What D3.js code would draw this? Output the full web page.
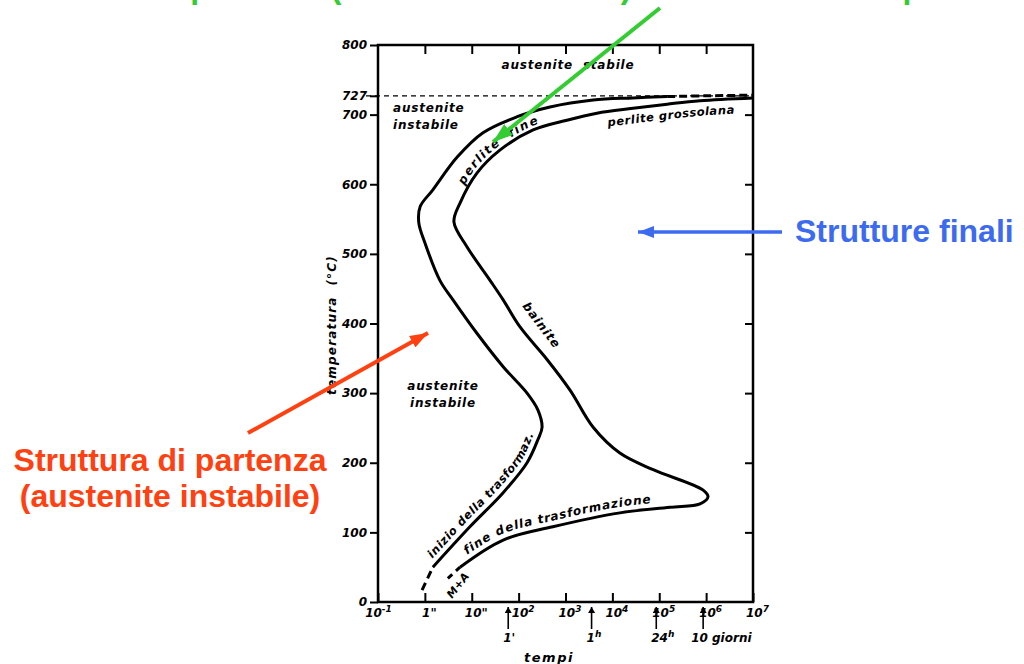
<!DOCTYPE html>
<html>
<head>
<meta charset="utf-8">
<script src="https://cdn.jsdelivr.net/npm/d3@7"></script>
<style>
body { margin: 0; background: #fff; }
svg { display: block; }
.lbl { font-family: "DejaVu Sans", sans-serif; font-weight: bold; font-style: italic; fill: #000; white-space: pre; }
.big { font-family: "Liberation Sans", Arial, sans-serif; font-weight: bold; font-size: 32px; }
</style>
</head>
<body>
<svg id="chart" width="1024" height="664"></svg>
<script>
// temperature axis
var yTicks = [0, 100, 200, 300, 400, 500, 600, 700, 800];
var eutectoid = 727;
// time axis: decades (log10 of seconds) and their labels [base, exponent]
var xDecades = [-1, 0, 1, 2, 3, 4, 5, 6, 7];
var xTickLabels = [['10', '-1'], ['1"', ''], ['10"', ''], ['10', '2'], ['10', '3'], ['10', '4'], ['10', '5'], ['10', '6'], ['10', '7']];
// reference times under the axis, seconds
var markerTimes = [60, 3600, 86400, 864000];
var markerLabels = [["1'", ''], ['1', 'h'], ['24', 'h'], ['10 giorni', '']];

// curve "inizio della trasformazione" (log10 t, °C)
var startDashLogT = [-0.06, 0.17];
var startDashTemp = [17, 50];
var startLogT = [0.17, 0.96, 1.67, 2.18, 2.41, 2.50, 2.41, 2.18, 1.67, 1.11, 0.60, 0.32, 0.00, -0.13, -0.10, 0.17, 0.69, 1.24, 1.97, 2.67, 3.59, 4.44, 5.17];
var startTemp = [50, 108, 157, 200, 233, 251, 276, 300, 338, 386, 434, 462, 516, 545, 568, 592, 639, 674, 697, 711, 721, 724, 726];
var startTailLogT = [5.17, 6.0, 7.0];
var startTailTemp = [726, 727, 728];

// curve "fine della trasformazione"
var endDashLogT = [0.49, 0.75];
var endDashTemp = [34, 50];
var endLogT = [0.75, 1.67, 2.73, 4.16, 5.23, 5.87, 6.04, 5.93, 4.87, 4.16, 3.59, 3.10, 2.61, 2.03, 1.67, 1.39, 0.90, 0.62, 0.75, 1.11, 1.60, 2.31, 3.03, 3.67, 4.44, 5.17, 5.87, 7.0];
var endTemp = [50, 89, 108, 128, 136, 141, 151, 161, 190, 214, 251, 304, 348, 395, 434, 462, 510, 546, 573, 616, 649, 678, 692, 702, 709, 715, 720, 724];

var svg = d3.select('#chart');

var plot = {l: 378, r: 753, t: 45, b: 602};

var xScale = d3.scaleLog().domain([0.1, 1e7]).range([plot.l, plot.r]);
var yScale = d3.scaleLinear().domain([0, 800]).range([plot.b, plot.t]);

var line = d3.line()
    .x(function(d) { return xScale(Math.pow(10, d[0])); })
    .y(function(d) { return yScale(d[1]); })
    .curve(d3.curveCatmullRom.alpha(0.5));

// markers for the coloured arrows
var defs = svg.append('defs');
function addMarker(id, color, len, wid) {
    defs.append('marker')
        .attr('id', id)
        .attr('markerUnits', 'userSpaceOnUse')
        .attr('viewBox', '0 0 ' + len + ' ' + wid)
        .attr('refX', len).attr('refY', wid / 2)
        .attr('markerWidth', len).attr('markerHeight', wid)
        .attr('orient', 'auto')
        .append('path')
        .attr('d', 'M0,0L' + len + ',' + (wid / 2) + 'L0,' + wid + 'Z')
        .attr('fill', color);
}
addMarker('headGreen', '#33cc33', 20, 14);
addMarker('headRed', '#ff4010', 18, 13);
addMarker('headBlue', '#3d6bf0', 16, 12);
addMarker('headBlack', '#000', 6, 7);

// frame
svg.append('rect')
    .attr('x', plot.l).attr('y', plot.t)
    .attr('width', plot.r - plot.l).attr('height', plot.b - plot.t)
    .attr('fill', 'none').attr('stroke', '#000').attr('stroke-width', 2.5);

function styleAxis(g) {
    g.select('.domain').remove();
    g.selectAll('.tick line').attr('stroke', '#000').attr('stroke-width', 2);
    g.selectAll('.tick text')
        .attr('class', 'lbl')
        .style('font-size', '12px')
        .attr('fill', '#000');
}

// left axis
svg.append('g')
    .attr('transform', 'translate(' + plot.l + ',0)')
    .call(d3.axisLeft(yScale).tickValues(yTicks.concat([eutectoid])).tickSize(8).tickPadding(3)
        .tickFormat(function(d) { return d; }))
    .call(styleAxis);

// right axis, inner ticks only
svg.append('g')
    .attr('transform', 'translate(' + plot.r + ',0)')
    .call(d3.axisRight(yScale).tickValues(yTicks.slice(1, -1)).tickSizeInner(-8).tickSizeOuter(0).tickFormat(''))
    .call(styleAxis);

// top axis, inner ticks only
svg.append('g')
    .attr('transform', 'translate(0,' + plot.t + ')')
    .call(d3.axisTop(xScale).tickValues(xDecades.slice(1, -1).map(function(e) { return Math.pow(10, e); }))
        .tickSizeInner(-9).tickSizeOuter(0).tickFormat(''))
    .call(styleAxis);

// bottom axis
var bottomAxis = svg.append('g')
    .attr('transform', 'translate(0,' + plot.b + ')')
    .call(d3.axisBottom(xScale).tickValues(xDecades.map(function(e) { return Math.pow(10, e); }))
        .tickSizeInner(-9).tickSizeOuter(0).tickPadding(5).tickFormat(''))
    .call(styleAxis);

bottomAxis.selectAll('.tick text').each(function(d, i) {
    var t = d3.select(this).attr('dy', '0.8em').attr('dx', i === 0 ? 0 : 4);
    t.append('tspan').text(xTickLabels[i][0]);
    if (xTickLabels[i][1]) {
        t.append('tspan').attr('dy', -5).style('font-size', '9px').text(xTickLabels[i][1]);
    }
});

// reference time arrows
markerTimes.forEach(function(s, i) {
    var mx = xScale(s);
    svg.append('line')
        .attr('x1', mx).attr('x2', mx)
        .attr('y1', plot.b + 27).attr('y2', plot.b + 5)
        .attr('stroke', '#000').attr('stroke-width', 1.6)
        .attr('marker-end', 'url(#headBlack)');
    var t = svg.append('text').attr('class', 'lbl').style('font-size', '12px')
        .attr('x', mx + (i === 3 ? -12 : -5)).attr('y', plot.b + 40);
    t.append('tspan').text(markerLabels[i][0]);
    if (markerLabels[i][1]) t.append('tspan').attr('dy', -5).style('font-size', '9px').text(markerLabels[i][1]);
});

svg.append('text').attr('class', 'lbl').style('font-size', '13px').style('letter-spacing', '1.5px')
    .attr('x', 549).attr('y', 662).attr('text-anchor', 'middle').text('tempi');

svg.append('text').attr('class', 'lbl').style('font-size', '12px').style('letter-spacing', '1.2px')
    .attr('transform', 'translate(336,325) rotate(-90)')
    .attr('text-anchor', 'middle').text('temperatura  (°C)');

// 727 line
svg.append('line')
    .attr('x1', plot.l - 12).attr('x2', plot.r)
    .attr('y1', yScale(eutectoid)).attr('y2', yScale(eutectoid))
    .attr('stroke', '#000').attr('stroke-width', 1.3).attr('stroke-dasharray', '5,4');

// curves
var curves = svg.append('g').attr('fill', 'none').attr('stroke', '#000').attr('stroke-width', 3);

curves.append('path').attr('d', line(d3.zip(startDashLogT, startDashTemp))).attr('stroke-dasharray', '8,5');
var startPath = curves.append('path').attr('id', 'startCurve').attr('d', line(d3.zip(startLogT, startTemp)));
curves.append('path').attr('d', line(d3.zip(startTailLogT, startTailTemp))).attr('stroke-dasharray', '8,4');

curves.append('path').attr('d', line(d3.zip(endDashLogT, endDashTemp))).attr('stroke-dasharray', '6,5');
var endPath = curves.append('path').attr('id', 'endCurve').attr('d', line(d3.zip(endLogT, endTemp)));

function offsetNear(node, px, py) {
    var len = node.getTotalLength(), best = 0, bd = 1e9;
    for (var s = 0; s <= len; s += 1) {
        var p = node.getPointAtLength(s);
        var d = (p.x - px) * (p.x - px) + (p.y - py) * (p.y - py);
        if (d < bd) { bd = d; best = s; }
    }
    return best;
}

function pathLabel(pathSel, id, text, px, py, dy, size, spacing) {
    var off = offsetNear(pathSel.node(), px, py);
    svg.append('text').attr('class', 'lbl')
        .style('font-size', size + 'px').style('letter-spacing', spacing + 'px')
        .attr('dy', dy)
        .append('textPath')
        .attr('href', '#' + id)
        .attr('startOffset', off)
        .text(text);
}

pathLabel(startPath, 'startCurve', 'inizio della trasformaz.', 436, 562, -6, 11.5, 0.6);
pathLabel(endPath, 'endCurve', 'fine della trasformazione', 472, 562, -6, 12, 0.8);
pathLabel(endPath, 'endCurve', 'perlite  fine', 468, 188, -4, 12, 1.4);
pathLabel(endPath, 'endCurve', 'perlite grossolana', 606, 114, 15, 11.5, 0.6);

svg.append('text').attr('class', 'lbl').style('font-size', '12px').style('letter-spacing', '1px')
    .attr('transform', 'translate(522,306) rotate(53)').text('bainite');
svg.append('text').attr('class', 'lbl').style('font-size', '11px')
    .attr('transform', 'translate(452,599) rotate(-52)').text('M+A');

// region labels
function regionLabel(lines, x, y, anchor) {
    var t = svg.append('text').attr('class', 'lbl').style('font-size', '12px').style('letter-spacing', '0.8px')
        .attr('text-anchor', anchor);
    lines.forEach(function(s, i) {
        t.append('tspan').attr('x', x).attr('y', y + i * 17).text(s);
    });
}
regionLabel(['austenite  stabile'], 568, 69, 'middle');
regionLabel(['austenite', 'instabile'], 393, 112, 'start');
regionLabel(['austenite', 'instabile'], 443, 390, 'middle');

// coloured annotations
svg.append('text').attr('class', 'big').attr('fill', '#33cc33')
    .attr('x', 9).attr('y', -2)
    .text('Struttura di partenza (austenite instabile) + strutture finali: presenti');
svg.append('line')
    .attr('x1', 660).attr('y1', 8).attr('x2', 493).attr('y2', 142)
    .attr('stroke', '#33cc33').attr('stroke-width', 4).attr('marker-end', 'url(#headGreen)');

svg.append('text').attr('class', 'big').attr('fill', '#ff4010').attr('text-anchor', 'middle')
    .selectAll('tspan').data(['Struttura di partenza', '(austenite instabile)']).enter()
    .append('tspan').attr('x', 170).attr('y', function(d, i) { return 471 + i * 36; })
    .text(function(d) { return d; });
svg.append('line')
    .attr('x1', 248).attr('y1', 433).attr('x2', 428).attr('y2', 333)
    .attr('stroke', '#ff4010').attr('stroke-width', 4).attr('marker-end', 'url(#headRed)');

svg.append('text').attr('class', 'big').attr('fill', '#3d6bf0')
    .attr('x', 795).attr('y', 242).text('Strutture finali');
svg.append('line')
    .attr('x1', 782).attr('y1', 232).attr('x2', 638).attr('y2', 232)
    .attr('stroke', '#3d6bf0').attr('stroke-width', 3.5).attr('marker-end', 'url(#headBlue)');
</script>
</body>
</html>
